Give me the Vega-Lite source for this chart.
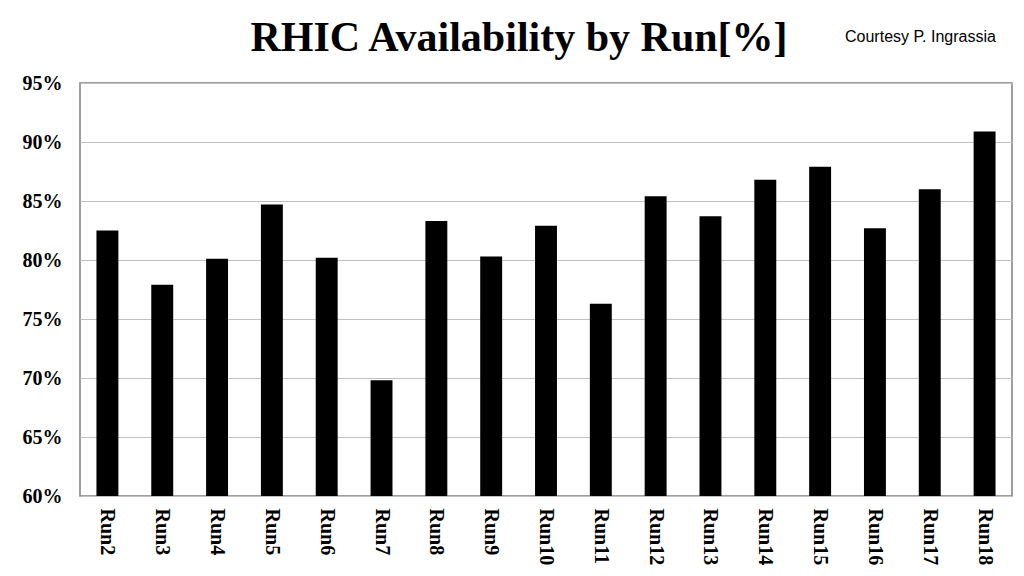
{
  "$schema": "https://vega.github.io/schema/vega-lite/v6.json",
  "autosize": "none",
  "width": 932,
  "height": 413,
  "padding": {"left": 80, "top": 83, "right": 12, "bottom": 80},
  "background": "white",
  "title": {
    "text": "RHIC Availability by Run[%]",
    "font": "Liberation Serif",
    "fontSize": 42,
    "fontWeight": "bold",
    "color": "black",
    "anchor": "middle",
    "dx": -27,
    "offset": -31
  },
  "config": {
    "view": {"stroke": "#7f7f7f", "strokeWidth": 1.5},
    "axis": {"domain": false, "ticks": false}
  },
  "layer": [
    {
      "data": {
        "values": [
          {"run": "Run2", "availability": 82.5},
          {"run": "Run3", "availability": 77.9},
          {"run": "Run4", "availability": 80.1},
          {"run": "Run5", "availability": 84.7},
          {"run": "Run6", "availability": 80.2},
          {"run": "Run7", "availability": 69.8},
          {"run": "Run8", "availability": 83.3},
          {"run": "Run9", "availability": 80.3},
          {"run": "Run10", "availability": 82.9},
          {"run": "Run11", "availability": 76.3},
          {"run": "Run12", "availability": 85.4},
          {"run": "Run13", "availability": 83.7},
          {"run": "Run14", "availability": 86.8},
          {"run": "Run15", "availability": 87.9},
          {"run": "Run16", "availability": 82.7},
          {"run": "Run17", "availability": 86.0},
          {"run": "Run18", "availability": 90.9}
        ]
      },
      "mark": {"type": "bar", "color": "black", "clip": true},
      "encoding": {
        "x": {
          "field": "run",
          "type": "nominal",
          "sort": null,
          "scale": {"paddingInner": 0.6, "paddingOuter": 0.3},
          "axis": {
            "title": null,
            "labelAngle": 90,
            "labelFont": "Liberation Serif",
            "labelFontSize": 20,
            "labelFontWeight": "bold",
            "labelColor": "black",
            "labelPadding": 12,
            "grid": false
          }
        },
        "y": {
          "field": "availability",
          "type": "quantitative",
          "scale": {"domain": [60, 95], "zero": false, "nice": false},
          "axis": {
            "title": null,
            "values": [60, 65, 70, 75, 80, 85, 90, 95],
            "labelExpr": "datum.value + '%'",
            "labelFont": "Liberation Serif",
            "labelFontSize": 20,
            "labelFontWeight": "bold",
            "labelColor": "black",
            "labelPadding": 18,
            "grid": true,
            "gridColor": "#c0c0c0",
            "gridWidth": 1.2
          }
        }
      }
    },
    {
      "data": {"values": [{"note": "Courtesy P. Ingrassia"}]},
      "mark": {
        "type": "text",
        "align": "left",
        "baseline": "middle",
        "font": "Liberation Sans",
        "fontSize": 16,
        "color": "black",
        "x": 765,
        "y": -46
      },
      "encoding": {"text": {"field": "note"}}
    }
  ]
}
